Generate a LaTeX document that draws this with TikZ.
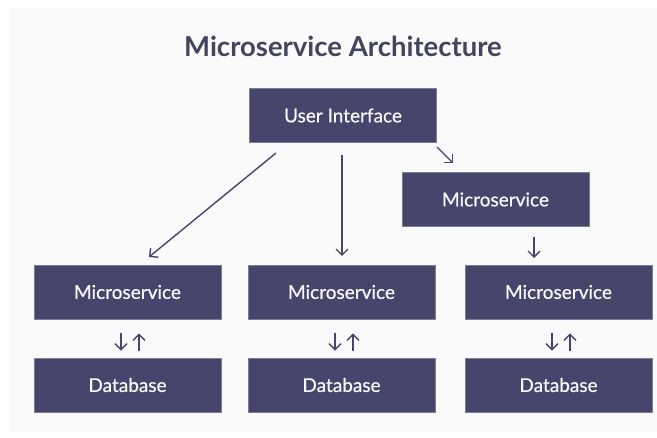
\documentclass[tikz,border=0pt]{standalone}
\usepackage{fontspec}
\setmainfont{Lato}
\newfontfamily\boxfont[FakeBold=0.6]{Lato}
\newfontfamily\titlefont[FakeBold=0.8]{Lato Bold}
\usetikzlibrary{arrows.meta}
\definecolor{boxc}{HTML}{46456B}
\definecolor{titlec}{HTML}{45445F}
\definecolor{bgc}{HTML}{FAFAFA}
\tikzset{
  box/.style={fill=boxc, draw=boxc!70!white, line width=0.6pt, minimum width=187pt, minimum height=54pt, inner sep=0pt, text=white!96!boxc, font=\boxfont\fontsize{19}{21}\selectfont},
  conn/.style={draw=boxc, line width=1.4pt, -{Straight Barb[length=6pt,width=12pt,line width=1.4pt]}},
}
\begin{document}
\begin{tikzpicture}[x=1pt,y=-1pt]
\useasboundingbox (0,0) rectangle (657,438);
\fill[white] (0,0) rectangle (657,438);
\fill[bgc] (9,7) rectangle (657,432);
\node[text=titlec, font=\bfseries\fontsize{27.5}{30}\selectfont] (title) at (343,46) {Microservice Architecture};
\node[box] (ui) at (343,115.5) {User Interface};
\node[box] (ms0) at (495.5,199.5) {Microservice};
\node[box] (ms1) at (127.5,292) {Microservice};
\node[box] (ms2) at (341.5,292) {Microservice};
\node[box] (ms3) at (558.5,292) {Microservice};
\node[box] (db1) at (127.5,385) {Database};
\node[box] (db2) at (341.5,385) {Database};
\node[box] (db3) at (558.5,385) {Database};
% connectors
\coordinate (a1s) at (276,153); \coordinate (a1e) at (149,257);
\draw[conn] (a1s) -- (a1e);
\coordinate (a2s) at (342,155); \coordinate (a2e) at (342,256);
\draw[conn] (a2s) -- (a2e);
\coordinate (a3s) at (437,147); \coordinate (a3e) at (453,163);
\draw[conn] (a3s) -- (a3e);
\coordinate (a4s) at (534,237); \coordinate (a4e) at (534,258);
\draw[conn] (a4s) -- (a4e);
\foreach \n in {1,2,3}{
  \draw[conn] ([xshift=-6.5pt,yshift=-14pt]ms\n.south) -- ([xshift=-6.5pt,yshift=7pt]db\n.north);
  \draw[conn] ([xshift=11.5pt,yshift=7pt]db\n.north) -- ([xshift=11.5pt,yshift=-14pt]ms\n.south);
}
\end{tikzpicture}
\end{document}
